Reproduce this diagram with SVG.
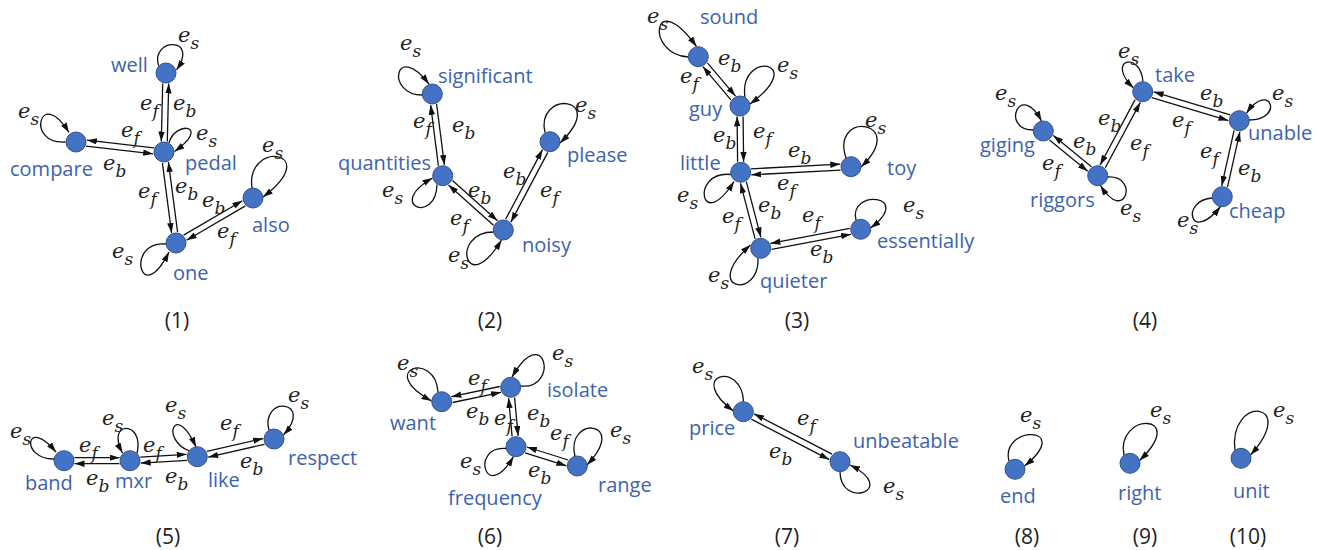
<svg xmlns="http://www.w3.org/2000/svg" width="1320" height="550" viewBox="0 0 1320 550">
<defs>
<marker id="ah" markerUnits="userSpaceOnUse" markerWidth="10" markerHeight="7" refX="10" refY="3.2" orient="auto">
<path d="M0,0 L10,3.2 L0,6.4 z" fill="#111"/>
</marker>
<style>
.node circle{fill:#4472C4;stroke:#2F528F;stroke-width:1}
.nl{font-family:"Open Sans","Liberation Sans",sans-serif;font-size:20px;fill:#3D62B0}
#connectors line,#connectors path{fill:none;stroke:#111;stroke-width:1.3;marker-end:url(#ah)}
.el{font-family:"DejaVu Serif",serif;font-style:italic;font-size:21px;fill:#222}
.el tspan{font-size:17px}
.cap{font-family:"Open Sans","Liberation Sans",sans-serif;font-size:21px;fill:#222;text-anchor:middle}
</style>
</defs>
<rect width="1320" height="550" fill="#fff"/>
<g id="connectors">
<!-- panel 1 -->
<line x1="162.7" y1="83.4" x2="161.3" y2="141.5"/>
<line x1="167.3" y1="141.5" x2="168.7" y2="83.5"/>
<line x1="153.9" y1="147.8" x2="86.8" y2="140.2"/>
<line x1="86.1" y1="146.2" x2="153.2" y2="153.8"/>
<line x1="162.4" y1="162.8" x2="171.6" y2="233"/>
<line x1="177.6" y1="232.2" x2="168.4" y2="162"/>
<line x1="183.6" y1="235.1" x2="242.4" y2="200.7"/>
<line x1="245.4" y1="205.9" x2="186.6" y2="240.3"/>
<path d="M158.6,65.6 C150,38 200,36 176.5,70"/>
<path d="M169,143 C175,120 212,125 174.5,151.5"/>
<path d="M65.5,142 C25,145 40,85 69,132.5"/>
<path d="M166,244 C125,240 140,310 169,252"/>
<path d="M252,188 C245,140 325,150 263,197"/>
<!-- panel 2 -->
<line x1="438.4" y1="165.7" x2="430.6" y2="104.8"/>
<line x1="436.6" y1="104" x2="444.4" y2="164.9"/>
<line x1="452.5" y1="180.5" x2="497.5" y2="220.8"/>
<line x1="493.5" y1="225.2" x2="448.5" y2="184.9"/>
<line x1="505.6" y1="219.3" x2="542.5" y2="149.6"/>
<line x1="547.8" y1="152.4" x2="510.9" y2="222.1"/>
<path d="M422.5,95 C385,95 395,40 429,84"/>
<path d="M437,184.5 C436,225 385,205 432.5,178"/>
<path d="M493.5,232 C450,232 465,300 501.5,240"/>
<path d="M545,132.5 C535,90 610,95 560,143"/>
<!-- panel 3 -->
<line x1="707.4" y1="62.8" x2="735.5" y2="96.1"/>
<line x1="730.9" y1="99.9" x2="702.8" y2="66.6"/>
<line x1="737.6" y1="161.8" x2="737.1" y2="116.5"/>
<line x1="743.1" y1="116.5" x2="743.6" y2="161.8"/>
<line x1="751" y1="168.8" x2="840.3" y2="164.2"/>
<line x1="840.6" y1="170.2" x2="751.3" y2="174.8"/>
<line x1="755.1" y1="238.9" x2="740.5" y2="183.3"/>
<line x1="746.3" y1="181.7" x2="760.9" y2="237.3"/>
<line x1="849.8" y1="228.3" x2="770.4" y2="243.4"/>
<line x1="771.6" y1="249.3" x2="851" y2="234.3"/>
<path d="M688.5,57 C645,55 652,-15 696.5,46.5"/>
<path d="M745,97.5 C738,50 810,60 750,104"/>
<path d="M731,174.5 C690,170 700,235 734,181.5"/>
<path d="M846,158 C830,110 910,120 861,167"/>
<path d="M758,258 C760,300 700,290 750.5,245"/>
<path d="M856,220.5 C848,188 915,195 870.5,228"/>
<!-- panel 4 -->
<line x1="1230.2" y1="114.8" x2="1153.6" y2="91.8"/>
<line x1="1151.8" y1="97.6" x2="1228.4" y2="120.6"/>
<line x1="1135.1" y1="99.6" x2="1100.1" y2="165"/>
<line x1="1105.3" y1="167.8" x2="1140.3" y2="102.4"/>
<line x1="1091.5" y1="166.7" x2="1053.3" y2="135.4"/>
<line x1="1049.5" y1="140" x2="1087.7" y2="171.3"/>
<line x1="1234.1" y1="130.3" x2="1221.7" y2="185.9"/>
<line x1="1227.5" y1="187.2" x2="1239.9" y2="131.6"/>
<path d="M1143,81.5 C1140,50 1105,60 1133.5,88"/>
<path d="M1033.5,130 C1000,130 1020,80 1041.5,121"/>
<path d="M1107.5,177 C1140,175 1125,225 1100.5,185.5"/>
<path d="M1249,120 C1285,120 1270,80 1246.5,113"/>
<path d="M1212.5,198 C1180,200 1190,245 1220.5,206.5"/>
<!-- panel 5 -->
<line x1="74.5" y1="457.7" x2="119.5" y2="457.7"/>
<line x1="119.5" y1="463.7" x2="74.5" y2="463.7"/>
<line x1="140.3" y1="457.1" x2="186.6" y2="454.3"/>
<line x1="187" y1="460.3" x2="140.7" y2="463.1"/>
<line x1="206.8" y1="451.4" x2="263.1" y2="438.5"/>
<line x1="264.5" y1="444.3" x2="208.2" y2="457.2"/>
<path d="M54.5,459 C20,460 25,415 56,452"/>
<path d="M137,453.5 C145,420 105,420 122.5,453"/>
<path d="M189.5,451 C160,440 175,400 196,447"/>
<path d="M269,430.5 C260,395 315,400 283.5,435"/>
<!-- panel 6 -->
<line x1="499.8" y1="386.5" x2="451.4" y2="396.7"/>
<line x1="452.6" y1="402.5" x2="501" y2="392.3"/>
<line x1="512.1" y1="436.5" x2="508.6" y2="398.1"/>
<line x1="514.6" y1="397.5" x2="518.1" y2="435.9"/>
<line x1="568.2" y1="460" x2="526.9" y2="447"/>
<line x1="525.1" y1="452.8" x2="566.4" y2="465.8"/>
<path d="M438,392 C435,350 375,370 431.5,401"/>
<path d="M520.5,386 C560,390 545,320 512,377"/>
<path d="M506.3,448.5 C470,445 485,505 513.5,456.5"/>
<path d="M575,456.3 C565,415 630,420 587,465"/>
<!-- panel 7 -->
<line x1="832.1" y1="454.2" x2="754" y2="413.8"/>
<line x1="751.2" y1="419.2" x2="829.3" y2="459.6"/>
<path d="M743.5,401.8 C742,360 685,375 733.5,411"/>
<path d="M840,471.5 C840,510 900,490 850,465"/>
<!-- panels 8-10 -->
<path d="M1009,461 C1000,425 1075,425 1024.5,466"/>
<path d="M1124,455.5 C1115,412 1190,412 1139.5,460.5"/>
<path d="M1235,450.5 C1228,395 1300,400 1250.5,455"/>
</g>
<g id="edge-labels">
<text class="el" x="178" y="42">e<tspan dy="7">s</tspan></text>
<text class="el" x="140" y="110">e<tspan dy="7">f</tspan></text>
<text class="el" x="173" y="110">e<tspan dy="7">b</tspan></text>
<text class="el" x="196" y="140">e<tspan dy="7">s</tspan></text>
<text class="el" x="18" y="118">e<tspan dy="7">s</tspan></text>
<text class="el" x="121" y="137">e<tspan dy="7">f</tspan></text>
<text class="el" x="103" y="170">e<tspan dy="7">b</tspan></text>
<text class="el" x="138" y="198">e<tspan dy="7">f</tspan></text>
<text class="el" x="175" y="193">e<tspan dy="7">b</tspan></text>
<text class="el" x="202" y="207">e<tspan dy="7">b</tspan></text>
<text class="el" x="217" y="238">e<tspan dy="7">f</tspan></text>
<text class="el" x="262" y="152">e<tspan dy="7">s</tspan></text>
<text class="el" x="112" y="258">e<tspan dy="7">s</tspan></text>
<text class="el" x="400" y="50">e<tspan dy="7">s</tspan></text>
<text class="el" x="413" y="128">e<tspan dy="7">f</tspan></text>
<text class="el" x="452" y="132">e<tspan dy="7">b</tspan></text>
<text class="el" x="382" y="197">e<tspan dy="7">s</tspan></text>
<text class="el" x="468" y="197">e<tspan dy="7">b</tspan></text>
<text class="el" x="450" y="225">e<tspan dy="7">f</tspan></text>
<text class="el" x="448" y="262">e<tspan dy="7">s</tspan></text>
<text class="el" x="503" y="178">e<tspan dy="7">b</tspan></text>
<text class="el" x="540" y="197">e<tspan dy="7">f</tspan></text>
<text class="el" x="575" y="112">e<tspan dy="7">s</tspan></text>
<text class="el" x="647" y="23">e<tspan dy="7">s</tspan></text>
<text class="el" x="718" y="65">e<tspan dy="7">b</tspan></text>
<text class="el" x="680" y="83">e<tspan dy="7">f</tspan></text>
<text class="el" x="777" y="72">e<tspan dy="7">s</tspan></text>
<text class="el" x="713" y="142">e<tspan dy="7">b</tspan></text>
<text class="el" x="753" y="138">e<tspan dy="7">f</tspan></text>
<text class="el" x="788" y="157">e<tspan dy="7">b</tspan></text>
<text class="el" x="777" y="190">e<tspan dy="7">f</tspan></text>
<text class="el" x="677" y="202">e<tspan dy="7">s</tspan></text>
<text class="el" x="865" y="127">e<tspan dy="7">s</tspan></text>
<text class="el" x="722" y="223">e<tspan dy="7">f</tspan></text>
<text class="el" x="758" y="212">e<tspan dy="7">b</tspan></text>
<text class="el" x="802" y="222">e<tspan dy="7">f</tspan></text>
<text class="el" x="810" y="256">e<tspan dy="7">b</tspan></text>
<text class="el" x="708" y="282">e<tspan dy="7">s</tspan></text>
<text class="el" x="903" y="212">e<tspan dy="7">s</tspan></text>
<text class="el" x="1118" y="58">e<tspan dy="7">s</tspan></text>
<text class="el" x="1200" y="100">e<tspan dy="7">b</tspan></text>
<text class="el" x="1172" y="127">e<tspan dy="7">f</tspan></text>
<text class="el" x="995" y="100">e<tspan dy="7">s</tspan></text>
<text class="el" x="1098" y="125">e<tspan dy="7">b</tspan></text>
<text class="el" x="1130" y="150">e<tspan dy="7">f</tspan></text>
<text class="el" x="1073" y="148">e<tspan dy="7">b</tspan></text>
<text class="el" x="1042" y="170">e<tspan dy="7">f</tspan></text>
<text class="el" x="1120" y="215">e<tspan dy="7">s</tspan></text>
<text class="el" x="1272" y="100">e<tspan dy="7">s</tspan></text>
<text class="el" x="1200" y="158">e<tspan dy="7">f</tspan></text>
<text class="el" x="1238" y="175">e<tspan dy="7">b</tspan></text>
<text class="el" x="1177" y="227">e<tspan dy="7">s</tspan></text>
<text class="el" x="10" y="438">e<tspan dy="7">s</tspan></text>
<text class="el" x="79" y="452">e<tspan dy="7">f</tspan></text>
<text class="el" x="86" y="485">e<tspan dy="7">b</tspan></text>
<text class="el" x="102" y="425">e<tspan dy="7">s</tspan></text>
<text class="el" x="143" y="452">e<tspan dy="7">f</tspan></text>
<text class="el" x="165" y="483">e<tspan dy="7">b</tspan></text>
<text class="el" x="165" y="412">e<tspan dy="7">s</tspan></text>
<text class="el" x="220" y="430">e<tspan dy="7">f</tspan></text>
<text class="el" x="240" y="468">e<tspan dy="7">b</tspan></text>
<text class="el" x="288" y="402">e<tspan dy="7">s</tspan></text>
<text class="el" x="397" y="370">e<tspan dy="7">s</tspan></text>
<text class="el" x="468" y="385">e<tspan dy="7">f</tspan></text>
<text class="el" x="466" y="418">e<tspan dy="7">b</tspan></text>
<text class="el" x="552" y="360">e<tspan dy="7">s</tspan></text>
<text class="el" x="494" y="425">e<tspan dy="7">f</tspan></text>
<text class="el" x="527" y="420">e<tspan dy="7">b</tspan></text>
<text class="el" x="550" y="440">e<tspan dy="7">f</tspan></text>
<text class="el" x="528" y="477">e<tspan dy="7">b</tspan></text>
<text class="el" x="460" y="468">e<tspan dy="7">s</tspan></text>
<text class="el" x="610" y="437">e<tspan dy="7">s</tspan></text>
<text class="el" x="692" y="373">e<tspan dy="7">s</tspan></text>
<text class="el" x="797" y="425">e<tspan dy="7">f</tspan></text>
<text class="el" x="769" y="458">e<tspan dy="7">b</tspan></text>
<text class="el" x="883" y="493">e<tspan dy="7">s</tspan></text>
<text class="el" x="1020" y="422">e<tspan dy="7">s</tspan></text>
<text class="el" x="1150" y="417">e<tspan dy="7">s</tspan></text>
<text class="el" x="1273" y="417">e<tspan dy="7">s</tspan></text>
</g>
<g id="n-well" class="node"><circle cx="166" cy="73" r="10"/><text class="nl" x="111" y="72">well</text></g>
<g id="n-pedal" class="node"><circle cx="164" cy="152" r="10"/><text class="nl" x="185" y="170">pedal</text></g>
<g id="n-compare" class="node"><circle cx="76" cy="142" r="10"/><text class="nl" x="10" y="176">compare</text></g>
<g id="n-one" class="node"><circle cx="176" cy="243" r="10"/><text class="nl" x="173" y="280">one</text></g>
<g id="n-also" class="node"><circle cx="253" cy="198" r="10"/><text class="nl" x="252" y="232">also</text></g>
<g id="n-significant" class="node"><circle cx="432.3" cy="94" r="10"/><text class="nl" x="438" y="83">significant</text></g>
<g id="n-quantities" class="node"><circle cx="442.7" cy="175.7" r="10"/><text class="nl" x="338" y="170">quantities</text></g>
<g id="n-noisy" class="node"><circle cx="503.3" cy="230" r="10"/><text class="nl" x="522" y="252">noisy</text></g>
<g id="n-please" class="node"><circle cx="550" cy="141.7" r="10"/><text class="nl" x="567" y="162">please</text></g>
<g id="n-sound" class="node"><circle cx="698.3" cy="56.7" r="10"/><text class="nl" x="700" y="24">sound</text></g>
<g id="n-guy" class="node"><circle cx="740" cy="106" r="10"/><text class="nl" x="689" y="116">guy</text></g>
<g id="n-little" class="node"><circle cx="740.7" cy="172.3" r="10"/><text class="nl" x="680" y="170">little</text></g>
<g id="n-toy" class="node"><circle cx="851" cy="166.7" r="10"/><text class="nl" x="887" y="175">toy</text></g>
<g id="n-quieter" class="node"><circle cx="760.7" cy="248.3" r="10"/><text class="nl" x="760" y="288">quieter</text></g>
<g id="n-essentially" class="node"><circle cx="860.7" cy="229.3" r="10"/><text class="nl" x="877" y="248">essentially</text></g>
<g id="n-take" class="node"><circle cx="1142.7" cy="91.7" r="10"/><text class="nl" x="1155" y="82">take</text></g>
<g id="n-giging" class="node"><circle cx="1043.3" cy="131" r="10"/><text class="nl" x="980" y="152">giging</text></g>
<g id="n-riggors" class="node"><circle cx="1097.7" cy="175.7" r="10"/><text class="nl" x="1030" y="207">riggors</text></g>
<g id="n-unable" class="node"><circle cx="1239.3" cy="120.7" r="10"/><text class="nl" x="1248" y="140">unable</text></g>
<g id="n-cheap" class="node"><circle cx="1222.3" cy="196.7" r="10"/><text class="nl" x="1229" y="218">cheap</text></g>
<g id="n-band" class="node"><circle cx="64" cy="460.7" r="10"/><text class="nl" x="25" y="490">band</text></g>
<g id="n-mxr" class="node"><circle cx="130" cy="460.7" r="10"/><text class="nl" x="115" y="488">mxr</text></g>
<g id="n-like" class="node"><circle cx="197.3" cy="456.7" r="10"/><text class="nl" x="208" y="487">like</text></g>
<g id="n-respect" class="node"><circle cx="274" cy="439" r="10"/><text class="nl" x="288" y="465">respect</text></g>
<g id="n-want" class="node"><circle cx="441.7" cy="401.7" r="10"/><text class="nl" x="390" y="430">want</text></g>
<g id="n-isolate" class="node"><circle cx="510.7" cy="387.3" r="10"/><text class="nl" x="547" y="397">isolate</text></g>
<g id="n-frequency" class="node"><circle cx="516" cy="446.7" r="10"/><text class="nl" x="448" y="505">frequency</text></g>
<g id="n-range" class="node"><circle cx="577.3" cy="466" r="10"/><text class="nl" x="598" y="492">range</text></g>
<g id="n-price" class="node"><circle cx="743.3" cy="411.7" r="10"/><text class="nl" x="689" y="435">price</text></g>
<g id="n-unbeatable" class="node"><circle cx="840" cy="461.7" r="10"/><text class="nl" x="853" y="448">unbeatable</text></g>
<g id="n-end" class="node"><circle cx="1015" cy="469.3" r="10"/><text class="nl" x="1000" y="503">end</text></g>
<g id="n-right" class="node"><circle cx="1130" cy="463.3" r="10"/><text class="nl" x="1118" y="500">right</text></g>
<g id="n-unit" class="node"><circle cx="1241" cy="458.3" r="10"/><text class="nl" x="1233" y="498">unit</text></g>
<g id="captions">
<text class="cap" x="177" y="328">(1)</text>
<text class="cap" x="490" y="328">(2)</text>
<text class="cap" x="797" y="328">(3)</text>
<text class="cap" x="1145" y="328">(4)</text>
<text class="cap" x="168" y="544">(5)</text>
<text class="cap" x="490" y="544">(6)</text>
<text class="cap" x="787" y="544">(7)</text>
<text class="cap" x="1027" y="544">(8)</text>
<text class="cap" x="1145" y="544">(9)</text>
<text class="cap" x="1248" y="544">(10)</text>
</g>
</svg>
